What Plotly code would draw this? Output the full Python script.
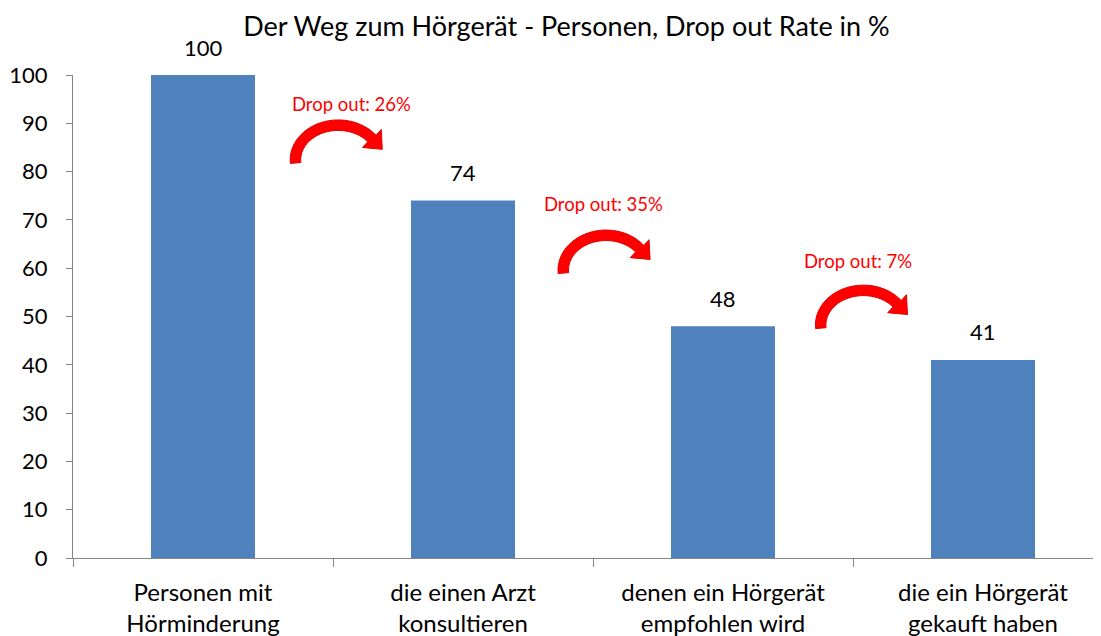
import math
import plotly.graph_objects as go

# ---- data ----
categories = ["Personen mit<br>Hörminderung", "die einen Arzt<br>konsultieren",
              "denen ein Hörgerät<br>empfohlen wird", "die ein Hörgerät<br>gekauft haben"]
values = [100, 74, 48, 41]
dropout_labels = ["Drop out: 26%", "Drop out: 35%", "Drop out: 7%"]
title_text = "Der Weg zum Hörgerät - Personen, Drop out Rate in %"

# annotation placement (arrow centre x in category units, arrow top in value units)
arrow_x = [0.52, 1.55, 2.54]
arrow_top = [90.7, 67.9, 56.5]
label_x = [0.57, 1.54, 2.52]
label_y = [94.0, 73.2, 61.5]

# page body has an 8px margin; figure sized so it ends at the window edge
W, H = 1093, 628
ML, MR, MT, MB = 65, 0, 67, 78
XR = [-0.5, -0.5 + (W - ML - MR) / 260.0]
YR = [0, 100]
px_x = (W - ML - MR) / (XR[1] - XR[0])
px_y = (H - MT - MB) / (YR[1] - YR[0])

FONT = "Lato"

fig = go.Figure()
fig.add_trace(go.Bar(
    x=categories, y=values, width=0.4,
    marker=dict(color="#4F81BD", line=dict(width=0)),
    hoverinfo="skip",
))

def arrow_path(cx, top):
    Ro_x, Ro_y = 48.0, 40.0
    t = 10.5
    Ri_x, Ri_y = Ro_x - t, Ro_y - t
    cyo = top - Ro_y / px_y
    def cv(p):
        return (cx + p[0] / px_x, cyo + p[1] / px_y)
    a0, a1 = math.radians(185), math.radians(38)
    n = 30
    outer = [cv((Ro_x * math.cos(a0 + (a1 - a0) * i / n), Ro_y * math.sin(a0 + (a1 - a0) * i / n))) for i in range(n + 1)]
    inner = [cv((Ri_x * math.cos(a1 + (a0 - a1) * i / n), Ri_y * math.sin(a1 + (a0 - a1) * i / n))) for i in range(n + 1)]
    mx = (Ro_x + Ri_x) / 2
    my = (Ro_y + Ri_y) / 2
    ex = mx * math.cos(a1)
    ey = my * math.sin(a1)
    tx, ty = math.sin(a1) * mx, -math.cos(a1) * my
    tl = math.hypot(tx, ty)
    tx, ty = tx / tl, ty / tl
    nx, ny = -ty, tx
    hw, hl = 13.0, 15.0
    b1 = (ex + nx * hw, ey + ny * hw)
    b2 = (ex - nx * hw, ey - ny * hw)
    tip = (ex + tx * hl, ey + ty * hl)
    if math.hypot(*b1) > math.hypot(*b2):
        ob, ib = b1, b2
    else:
        ob, ib = b2, b1
    pts = outer + [cv(ob), cv(tip), cv(ib)] + inner
    return "M " + " L ".join(f"{x:.5f},{y:.5f}" for x, y in pts) + " Z"

shapes = []
for i in range(len(arrow_x)):
    shapes.append(dict(type="path", xref="x", yref="y", path=arrow_path(arrow_x[i], arrow_top[i]),
                       fillcolor="#FF0000", line=dict(color="#E00000", width=1), layer="above"))

annotations = []
for i, lab in enumerate(dropout_labels):
    annotations.append(dict(x=label_x[i], y=label_y[i], xref="x", yref="y", text=lab,
                            showarrow=False, font=dict(size=18.5, color="#FF0000", family=FONT),
                            xanchor="center", yanchor="middle"))
for i, v in enumerate(values):
    annotations.append(dict(x=i, y=v, xref="x", yref="y", text=str(v), showarrow=False,
                            yshift=28, xanchor="center", yanchor="middle",
                            font=dict(size=22, color="#000000", family=FONT)))

fig.update_layout(
    width=W, height=H, autosize=False,
    margin=dict(l=ML, r=MR, t=MT, b=MB, pad=0, autoexpand=False),
    paper_bgcolor="white", plot_bgcolor="white",
    showlegend=False,
    title=dict(text=title_text, x=0.48, xref="paper", xanchor="center", y=1 - 19 / H, yref="container",
               yanchor="middle", font=dict(size=27, color="#000000", family=FONT)),
    font=dict(family=FONT, color="#000000"),
    shapes=shapes, annotations=annotations,
)
fig.update_xaxes(
    type="category", range=XR, automargin=False,
    tickson="boundaries", ticks="outside", ticklen=8, tickcolor="#868686", tickwidth=1,
    ticklabelstandoff=13,
    showline=True, linecolor="#868686", linewidth=1, showgrid=False, zeroline=False,
    tickfont=dict(size=24, color="#000000", family=FONT), fixedrange=True,
)
fig.update_yaxes(
    range=YR, tickmode="array", tickvals=list(range(0, 101, 10)), automargin=False,
    ticks="outside", ticklen=6, tickcolor="#868686", tickwidth=1,
    ticklabelstandoff=14,
    showline=True, linecolor="#868686", linewidth=1, showgrid=False, zeroline=False,
    tickfont=dict(size=22, color="#000000", family=FONT), fixedrange=True,
)

fig.write_html("out.html", config={"displayModeBar": False})
